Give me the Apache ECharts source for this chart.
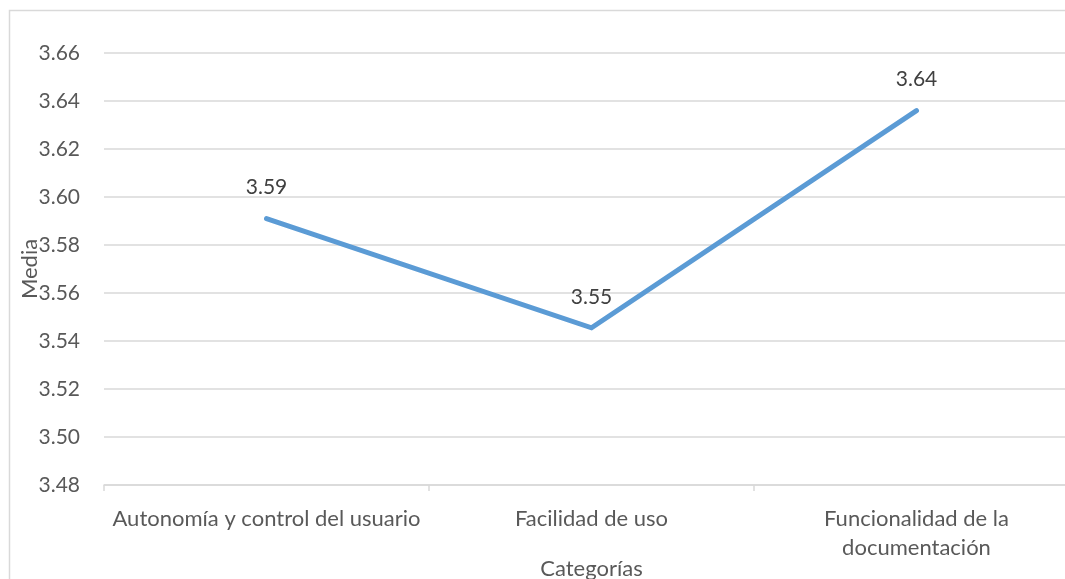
<!DOCTYPE html>
<html>
<head>
<meta charset="utf-8">
<script src="https://cdn.jsdelivr.net/npm/echarts@6/dist/echarts.min.js"></script>
<style>
  html, body { margin: 0; padding: 0; background: #fff; }
  #chart { width: 1065px; height: 579px; }
</style>
</head>
<body>
<div id="chart"></div>
<script>
// Mean score per evaluation category
const categories = ['Autonomía y control del usuario', 'Facilidad de uso', 'Funcionalidad de la\ndocumentación'];
const means = [3.591, 3.5455, 3.636];
const yTicks = { min: 3.48, max: 3.66, step: 0.02 };

const FONT = 'Lato';
const TEXT = '#595959';
const GRID = '#d9d9d9';

const chart = echarts.init(document.getElementById('chart'), null, { renderer: 'canvas' });
chart.setOption({
  animation: false,
  backgroundColor: '#fff',
  textStyle: { fontFamily: FONT },
  graphic: [{
    type: 'rect',
    shape: { x: 9.5, y: 10.5, width: 1100, height: 600 },
    style: { fill: 'none', stroke: GRID, lineWidth: 1.5 },
    silent: true
  }],
  grid: { left: 104, top: 53, width: 975, height: 432, outerBoundsMode: 'none' },
  xAxis: {
    type: 'category',
    data: categories,
    boundaryGap: true,
    axisLine: { lineStyle: { color: GRID, width: 1.5 } },
    axisTick: { show: true, length: 6, lineStyle: { color: GRID, width: 1.5 } },
    axisLabel: { color: TEXT, fontSize: 22, fontFamily: FONT, margin: 19, lineHeight: 29, interval: 0 },
    name: 'Categorías',
    nameLocation: 'middle',
    nameGap: 73,
    nameMoveOverlap: false,
    nameTextStyle: { color: TEXT, fontSize: 22, fontFamily: FONT },
    splitLine: { show: false }
  },
  yAxis: {
    type: 'value',
    min: yTicks.min,
    max: yTicks.max,
    interval: yTicks.step,
    axisLine: { show: false },
    axisTick: { show: false },
    axisLabel: { color: TEXT, fontSize: 21, fontFamily: FONT, margin: 24, formatter: v => v.toFixed(2) },
    splitLine: { lineStyle: { color: GRID, width: 1.5 } },
    name: 'Media',
    nameLocation: 'middle',
    nameGap: 63,
    nameMoveOverlap: false,
    nameTextStyle: { color: TEXT, fontSize: 22, fontFamily: FONT }
  },
  series: [{
    type: 'line',
    data: means,
    symbol: 'circle',
    symbolSize: 1,
    showSymbol: true,
    itemStyle: { color: 'rgba(0,0,0,0)' },
    lineStyle: { color: '#5b9bd5', width: 5, cap: 'round', join: 'miter' },
    label: {
      show: true,
      position: 'top',
      distance: 20,
      color: '#404040',
      fontSize: 21,
      fontFamily: FONT,
      formatter: p => p.value.toFixed(2)
    }
  }]
});
</script>
</body>
</html>
